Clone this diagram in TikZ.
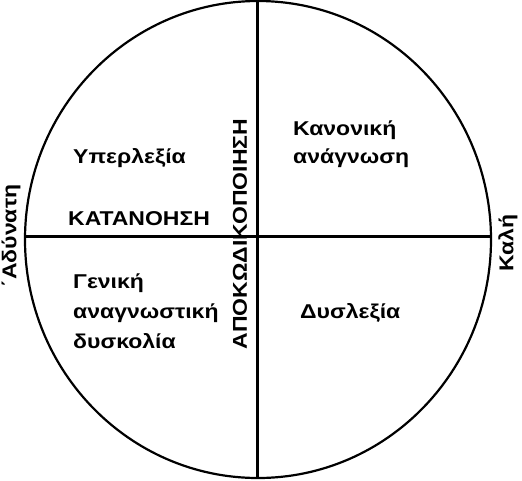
\documentclass[tikz,border=0pt]{standalone}
\usepackage{fontspec}
\setmainfont{Liberation Sans}[FakeStretch=1.15]
\usetikzlibrary{shapes.geometric}
\begin{document}
\begin{tikzpicture}[x=1pt,y=-1pt,
  lbl/.style={font=\fontsize{20}{24}\selectfont\bfseries, inner sep=0pt, anchor=base west},
  side/.style={font=\fontsize{20}{24}\selectfont\bfseries, inner sep=0pt, rotate=90},
  ln/.style={line width=2.2pt}]
\useasboundingbox (0,0) rectangle (522,480);
\node[ellipse, minimum width=466pt, minimum height=477pt, draw, line width=2.2pt, inner sep=0pt] (c) at (258,239.5) {};
\coordinate (top) at (257.5,1);
\coordinate (bot) at (257.5,478);
\coordinate (lft) at (25,236.5);
\coordinate (rgt) at (491,236.5);
\draw[ln] (top) -- (bot);
\draw[ln] (lft) -- (rgt);
\node[lbl] (hyper) at (73,163) {Υπερλεξία};
\node[lbl] (katan) at (68,225) {ΚΑΤΑΝΟΗΣΗ};
\node[lbl] (kan1) at (293,135) {Κανονική};
\node[lbl] (kan2) at (293,163) {ανάγνωση};
\node[lbl] (gen1) at (73,288) {Γενική};
\node[lbl] (gen2) at (73,318) {αναγνωστική};
\node[lbl] (gen3) at (73,348) {δυσκολία};
\node[lbl] (dys) at (300,318) {Δυσλεξία};
\node[side] (apok) at (240,234) {ΑΠΟΚΩΔΙΚΟΠΟΙΗΣΗ};
\node[side] (adyn) at (11,236) {΄Αδύνατη};
\node[side] (kali) at (508,243) {Καλή};
\end{tikzpicture}
\end{document}
